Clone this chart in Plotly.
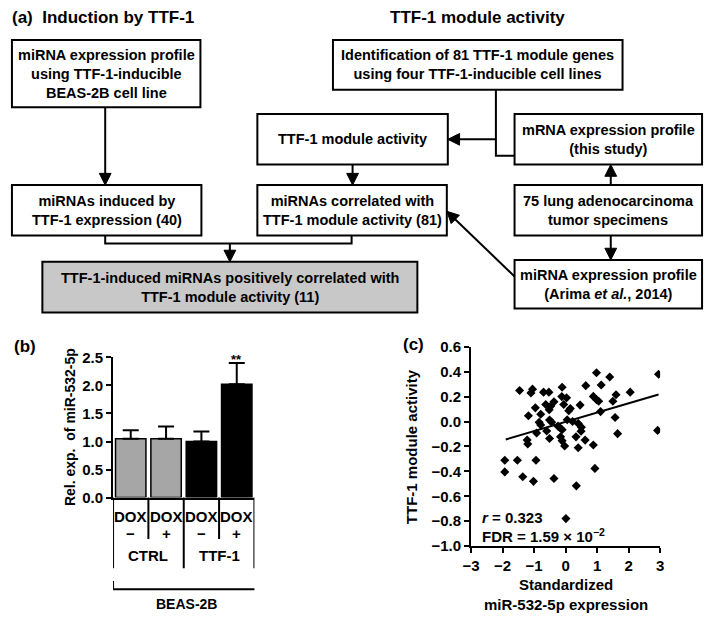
import plotly.graph_objects as go

# Figure fills the whole 709x620 window (page margin removed after plotting).
W, H = 709, 620
FONT = "Liberation Sans"

# ---------------- Panel (a) text ----------------
title_left = "(a)\u00a0\u00a0Induction by TTF-1"
title_right = "TTF-1 module activity"
box_texts = {
    "A": "miRNA expression profile<br>using TTF-1-inducible<br>BEAS-2B cell line",
    "B": "miRNAs induced by<br>TTF-1 expression (40)",
    "C": "TTF-1 module activity",
    "D": "miRNAs correlated with<br>TTF-1 module activity (81)",
    "E": "Identification of 81 TTF-1 module genes<br>using four TTF-1-inducible cell lines",
    "F": "mRNA expression profile<br>(this study)",
    "G": "75 lung adenocarcinoma<br>tumor specimens",
    "H": "miRNA expression profile<br>(Arima <i>et al.</i>, 2014)",
    "I": "TTF-1-induced miRNAs positively correlated with<br>TTF-1 module activity (11)",
}

# ---------------- Panel (b) data ----------------
bar_groups = ["CTRL", "TTF-1"]
bar_dox = ["\u2212", "+", "\u2212", "+"]
bar_values = [1.05, 1.05, 1.00, 2.02]
bar_err = [0.15, 0.22, 0.18, 0.38]
bar_colors = ["#a6a6a6", "#a6a6a6", "#000000", "#000000"]
bar_yticks = [0.0, 0.5, 1.0, 1.5, 2.0, 2.5]
bar_yticklabels = ["0.0", "0.5", "1.0", "1.5", "2.0", "2.5"]
cell_line = "BEAS-2B"

# ---------------- Panel (c) data ----------------
expr_x = [-1.46, -1.05, -1.10, -0.70, -0.53, -0.11, -0.12, 0.03, -0.96, -0.63,
          -0.47, -0.52, -0.37, -0.06, 0.15, 0.10, -1.18, -0.79, -0.84, -0.79,
          -0.51, -0.44, -0.24, -0.18, -0.11, -0.60, -0.92, 0.05, 0.22, 0.40,
          0.50, 0.49, -1.22, -1.20, -0.51, -0.16, -0.11, -0.03, 0.33, 0.40,
          0.98, 1.40, 2.95, 0.64, 1.13, 2.05, 0.88, 0.98, 1.05, 1.60,
          1.50, 0.46, 1.11, 1.57, 1.65, 2.92, 0.62, 0.88, 0.93, -1.93,
          -1.53, -0.94, -1.93, -1.36, -1.02, -0.37, 0.34, 0.01]
activity_y = [0.249, 0.260, 0.230, 0.236, 0.236, 0.275, 0.200, 0.190, 0.110, 0.137,
              0.124, 0.095, 0.158, 0.137, 0.105, 0.087, 0.046, 0.059, -0.006, -0.027,
              0.012, -0.006, -0.037, -0.050, -0.066, -0.076, -0.092, 0.015, 0.000, -0.015,
              -0.045, -0.077, -0.149, -0.180, -0.136, -0.123, -0.155, -0.196, -0.123, -0.210,
              0.392, 0.358, 0.379, 0.288, 0.293, 0.236, 0.202, 0.176, 0.163, 0.215,
              0.163, 0.132, 0.080, 0.033, -0.097, -0.071, -0.149, -0.188, -0.376, -0.311,
              -0.311, -0.311, -0.404, -0.443, -0.480, -0.457, -0.516, -0.779]
trend_x = [-1.90, 2.95]
trend_y = [-0.144, 0.217]
sc_xticks = [-3, -2, -1, 0, 1, 2, 3]
sc_xticklabels = ["\u22123", "\u22122", "\u22121", "0", "1", "2", "3"]
sc_yticks = [-1.0, -0.8, -0.6, -0.4, -0.2, 0.0, 0.2, 0.4, 0.6]
sc_yticklabels = ["\u22121.0", "\u22120.8", "\u22120.6", "\u22120.4", "\u22120.2",
                  "0.0", "0.2", "0.4", "0.6"]
sc_xtitle = "Standardized<br>miR-532-5p expression"
sc_ytitle = "TTF-1 module activity"
stat_r = "<i>r</i> = 0.323"
stat_fdr = "FDR = 1.59 \u00d7 10<sup>\u22122</sup>"


def px(x):
    return x / W


def py(y):
    return 1 - y / H


shapes = []
annotations = []


def font(size, color="black"):
    return dict(family=FONT, size=size, color=color, weight="bold")


def rect(x0, y0, x1, y1, fill="white"):
    shapes.append(dict(type="rect", xref="paper", yref="paper",
                       x0=px(x0), x1=px(x1), y0=py(y1), y1=py(y0),
                       line=dict(color="black", width=2), fillcolor=fill))


def polyline(pts):
    d = "M " + " L ".join(f"{px(x)},{py(y)}" for x, y in pts)
    shapes.append(dict(type="path", xref="paper", yref="paper", path=d,
                       line=dict(color="black", width=2)))


def arrow(pts, size=12, half=6):
    """polyline ending in a filled arrowhead at its last point"""
    (x1, y1), (x2, y2) = pts[-2], pts[-1]
    L = ((x2 - x1) ** 2 + (y2 - y1) ** 2) ** 0.5
    dx, dy = (x2 - x1) / L, (y2 - y1) / L
    bx, by = x2 - dx * size, y2 - dy * size
    polyline(pts[:-1] + [(bx + dx, by + dy)])
    nx, ny = -dy, dx
    tri = [(x2, y2), (bx + nx * half, by + ny * half), (bx - nx * half, by - ny * half)]
    d = "M " + " L ".join(f"{px(x)},{py(y)}" for x, y in tri) + " Z"
    shapes.append(dict(type="path", xref="paper", yref="paper", path=d,
                       line=dict(color="black", width=1), fillcolor="black"))


def text(x, y, s, size=14, xanchor="center", angle=0, align="center"):
    annotations.append(dict(xref="paper", yref="paper", x=px(x), y=py(y), text=s,
                            showarrow=False, xanchor=xanchor, yanchor="middle",
                            textangle=angle, align=align, font=font(size)))


# ---------------- Flowchart geometry (window pixels) ----------------
boxes = {
    "A": (3, 32, 195, 101),
    "B": (3, 181, 196, 233),
    "C": (253, 108, 447, 160),
    "D": (253, 181, 446, 233),
    "E": (330, 32, 625, 83),
    "F": (515, 108, 706, 160),
    "G": (515, 181, 706, 233),
    "H": (515, 258, 706, 308),
    "I": (34, 260, 416, 312),
}
for k, (x0, y0, x1, y1) in boxes.items():
    rect(x0, y0, x1, y1, fill="#c8c8c8" if k == "I" else "white")
    text((x0 + x1) / 2, (y0 + y1) / 2, box_texts[k], size=14.5)

text(1, 9, title_left, size=17, xanchor="left")
text(477, 9, title_right, size=17)

arrow([(98, 101), (98, 181)])
arrow([(350, 160), (350, 181)])
polyline([(496, 83), (496, 151), (515, 151)])
arrow([(496, 134), (447, 134)])
arrow([(613, 181), (613, 160)])
arrow([(613, 233), (613, 258)])
polyline([(98, 233), (98, 241), (349, 241), (349, 233)])
arrow([(225, 241), (225, 260)])
arrow([(515, 275), (446, 208)])

# ---------------- Panel (b) ----------------
traces = []
traces.append(go.Bar(
    x=list(range(len(bar_values))), y=bar_values,
    marker=dict(color=bar_colors, line=dict(color="black", width=1.5)),
    error_y=dict(type="data", symmetric=False, array=bar_err,
                 arrayminus=[0] * len(bar_err), color="black", thickness=2, width=8),
    xaxis="x", yaxis="y", showlegend=False, hoverinfo="skip"))

text(3, 347, "(b)", size=17, xanchor="left")
text(62, 430, "Rel. exp.\u00a0\u00a0of miR-532-5p", size=14, angle=-90)

# significance marker above last bar
annotations.append(dict(xref="x", yref="y", x=3, y=bar_values[3] + bar_err[3],
                        text="**", showarrow=False, yanchor="bottom", yshift=-6,
                        font=font(13)))

# table below the bars
for i, d in enumerate(bar_dox):
    annotations.append(dict(xref="x", yref="paper", x=i, y=py(521.5), text="DOX",
                            showarrow=False, yanchor="middle", font=font(15)))
    annotations.append(dict(xref="x", yref="paper", x=i, y=py(539.5), text=d,
                            showarrow=False, yanchor="middle", font=font(15)))
for j, g in enumerate(bar_groups):
    annotations.append(dict(xref="x", yref="paper", x=2 * j + 0.5, y=py(561.5), text=g,
                            showarrow=False, yanchor="middle", font=font(15)))
for xb in [-0.5, 0.5, 1.5, 2.5, 3.5]:
    long = xb in (-0.5, 1.5, 3.5)
    shapes.append(dict(type="line", xref="x", yref="paper", x0=xb, x1=xb,
                       y0=py(502.3), y1=py(575 if long else 545),
                       line=dict(color="black", width=2)))
# bracket
shapes.append(dict(type="path", xref="x", yref="paper",
                   path=f"M -0.5,{py(588)} L -0.5,{py(596.5)} L 3.68,{py(596.5)} L 3.68,{py(588)}",
                   line=dict(color="black", width=2)))
annotations.append(dict(xref="x", yref="paper", x=1.59, y=py(612), text=cell_line,
                        showarrow=False, yanchor="middle", font=font(14)))

# ---------------- Panel (c) ----------------
traces.append(go.Scatter(
    x=expr_x, y=activity_y, mode="markers",
    marker=dict(symbol="diamond", size=7, color="black"),
    xaxis="x2", yaxis="y2", showlegend=False, hoverinfo="skip"))
traces.append(go.Scatter(
    x=trend_x, y=trend_y, mode="lines", line=dict(color="black", width=2),
    xaxis="x2", yaxis="y2", showlegend=False, hoverinfo="skip"))

text(399, 345, "(c)", size=17, xanchor="left")
text(410, 450, sc_ytitle, size=15, angle=-90)
text(567, 602, sc_xtitle, size=15)
annotations.append(dict(xref="x2", yref="y2", x=-2.72, y=-0.771, text=stat_r,
                        showarrow=False, xanchor="left", yanchor="middle", font=font(15)))
annotations.append(dict(xref="x2", yref="y2", x=-2.72, y=-0.912, text=stat_fdr,
                        showarrow=False, xanchor="left", yanchor="middle", font=font(15)))

axis_common = dict(showgrid=False, zeroline=False, showline=True, linecolor="black",
                   linewidth=2, ticks="outside", ticklen=5, tickwidth=2, tickcolor="black",
                   tickfont=font(15), fixedrange=True)

fig = go.Figure(data=traces)
fig.update_layout(
    width=W, height=H, margin=dict(l=0, r=0, t=0, b=0),
    paper_bgcolor="white", plot_bgcolor="rgba(0,0,0,0)",
    font=font(14), bargap=0.14, showlegend=False,
    xaxis=dict(domain=[px(106), px(250)], range=[-0.5, 3.5], showgrid=False,
               zeroline=False, showline=True, linecolor="black", linewidth=2,
               showticklabels=False, ticks="", anchor="y", fixedrange=True),
    yaxis=dict(domain=[py(502.3), py(358.3)], range=[0, 2.5], tickvals=bar_yticks,
               ticktext=bar_yticklabels, anchor="x", **axis_common),
    xaxis2=dict(domain=[px(470.7), px(663.3)], range=[-3, 3], tickvals=sc_xticks,
                ticktext=sc_xticklabels, anchor="y2", **axis_common),
    yaxis2=dict(domain=[py(552.3), py(347.3)], range=[-1.0, 0.6], tickvals=sc_yticks,
                ticktext=sc_yticklabels, anchor="x2", **axis_common),
    shapes=shapes, annotations=annotations,
)

fig.write_html(
    "out.html",
    config={"displayModeBar": False},
    post_script="document.documentElement.style.margin='0';"
                "document.body.style.margin='0';document.body.style.padding='0';"
                "document.body.style.overflow='hidden';",
)
